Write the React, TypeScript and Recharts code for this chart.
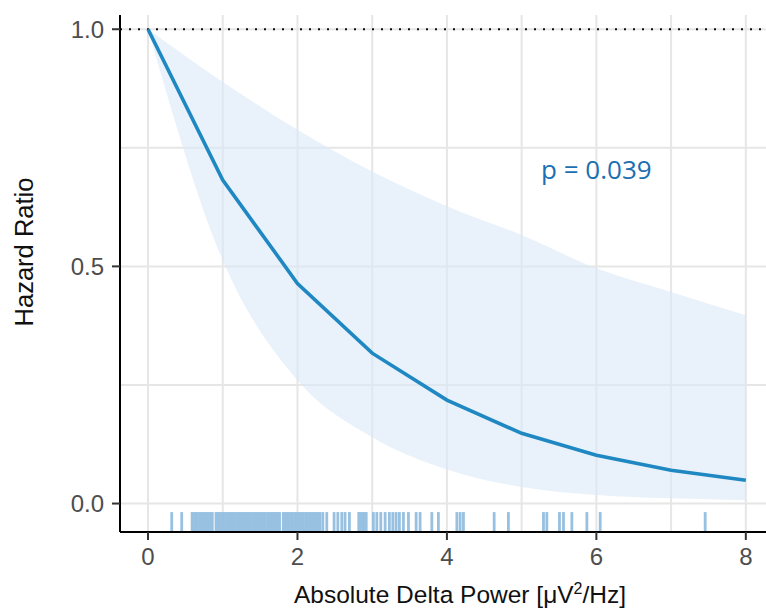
import React from "react";
import {
  ComposedChart,
  Area,
  Line,
  XAxis,
  YAxis,
  CartesianGrid,
  ReferenceLine,
  ReferenceDot,
  Label,
} from "recharts";

// curve values
const power = [0, 1, 2, 3, 4, 5, 6, 7, 8];
const hazard = [1.0, 0.682, 0.464, 0.317, 0.218, 0.148, 0.102, 0.07, 0.049];
const lowerCI = [1.0, 0.513, 0.26, 0.14, 0.072, 0.035, 0.018, 0.011, 0.007];
const upperCI = [1.0, 0.889, 0.788, 0.7, 0.627, 0.566, 0.496, 0.446, 0.397];

// rug of observed values along the x axis
const rugValues = [
  0.317, 0.451,
  0.59, 0.61, 0.64, 0.66, 0.69, 0.71, 0.74, 0.76, 0.79, 0.81, 0.84, 0.86,
  0.91, 0.93, 0.95, 0.97, 1.0, 1.02, 1.05, 1.07, 1.1, 1.12, 1.15, 1.17, 1.2,
  1.22, 1.25, 1.27, 1.3, 1.32, 1.35, 1.37, 1.4, 1.42, 1.45, 1.47, 1.5, 1.52,
  1.55, 1.57, 1.6, 1.62, 1.65, 1.67, 1.7, 1.72, 1.75, 1.76,
  1.81, 1.83, 1.86, 1.88, 1.91, 1.93, 1.96, 1.98, 2.01, 2.03, 2.06, 2.08,
  2.11, 2.13, 2.16, 2.18, 2.21, 2.23, 2.26, 2.28, 2.3,
  2.339, 2.392, 2.49, 2.54, 2.593, 2.637, 2.695,
  2.82, 2.84, 2.87, 2.89, 2.92,
  3.016, 3.062, 3.115, 3.173, 3.23, 3.276, 3.32, 3.364, 3.418, 3.485, 3.588,
  3.641, 3.798, 3.886, 4.133, 4.177, 4.221, 4.632, 4.823, 5.292, 5.337,
  5.506, 5.56, 5.672, 5.873, 6.051, 7.456,
];

const xTicks = [0, 2, 4, 6, 8];
const xGrid = [0, 1, 2, 3, 4, 5, 6, 7, 8];
const yTicks = [0, 0.5, 1];
const yGrid = [0, 0.25, 0.5, 0.75, 1];

const X_DOMAIN: [number, number] = [-0.375, 8.27];
const Y_DOMAIN: [number, number] = [-0.06, 1.03];
const RUG_TOP = -0.018;

const rows = power.map((x, i) => ({
  x,
  hr: hazard[i],
  ci: [lowerCI[i], upperCI[i]],
}));

const FONT = "'Liberation Sans', Arial, sans-serif";

const XTitle = () => (
  <text
    x={460}
    y={603}
    textAnchor="middle"
    fontFamily={FONT}
    fontSize={24.5}
    fill="#111"
  >
    Absolute Delta Power [μV
    <tspan dy={-9} fontSize={16}>2</tspan>
    <tspan dy={9}>/Hz]</tspan>
  </text>
);

const YTitle = () => (
  <text
    x={24}
    y={252}
    transform="rotate(-90 24 252)"
    textAnchor="middle"
    dominantBaseline="central"
    fontFamily={FONT}
    fontSize={25.5}
    fill="#111"
  >
    Hazard Ratio
  </text>
);

export default function App() {
  return (
    <div
      style={{
        position: "absolute",
        left: 0,
        top: 0,
        width: 766,
        height: 608,
        overflow: "hidden",
        background: "#fff",
      }}
    >
      <ComposedChart
        width={766}
        height={608}
        data={rows}
        margin={{ top: 15, right: 0, bottom: 0, left: 0 }}
      >
        <CartesianGrid
          stroke="#e6e6e6"
          strokeWidth={2}
          verticalValues={xGrid}
          horizontalValues={yGrid}
        />
        <XAxis
          type="number"
          dataKey="x"
          domain={X_DOMAIN}
          allowDataOverflow
          ticks={xTicks}
          height={76}
          tickSize={8}
          tickMargin={8}
          axisLine={{ stroke: "#000", strokeWidth: 2 }}
          tickLine={{ stroke: "#333", strokeWidth: 2 }}
          tick={{ fill: "#4d4d4d", fontSize: 24, fontFamily: FONT }}
        >
          <Label content={<XTitle />} />
        </XAxis>
        <XAxis
          xAxisId="top"
          orientation="top"
          type="number"
          domain={X_DOMAIN}
          height={0}
          tick={false}
          tickLine={false}
          axisLine={{ stroke: "#000", strokeWidth: 2 }}
        />
        <YAxis
          type="number"
          domain={Y_DOMAIN}
          allowDataOverflow
          ticks={yTicks}
          width={120}
          tickSize={8}
          tickMargin={8}
          tickFormatter={(v: number) => v.toFixed(1)}
          axisLine={{ stroke: "#000", strokeWidth: 2 }}
          tickLine={{ stroke: "#333", strokeWidth: 2 }}
          tick={{ fill: "#4d4d4d", fontSize: 24, fontFamily: FONT }}
        >
          <Label content={<YTitle />} />
        </YAxis>
        <Area
          dataKey="ci"
          type="monotone"
          stroke="none"
          fill="#dbeaf7"
          fillOpacity={0.6}
          isAnimationActive={false}
        />
        <ReferenceLine
          y={1}
          stroke="#111"
          strokeWidth={2.2}
          strokeDasharray="2 7"
        />
        <Line
          dataKey="hr"
          type="linear"
          stroke="#1f88c2"
          strokeWidth={3.6}
          dot={false}
          activeDot={false}
          isAnimationActive={false}
        />
        {rugValues.map((v, i) => (
          <ReferenceLine
            key={`rug-${i}`}
            segment={[
              { x: v, y: Y_DOMAIN[0] },
              { x: v, y: RUG_TOP },
            ]}
            stroke="#98c1e1"
            strokeWidth={2.8}
          />
        ))}
        <ReferenceDot
          x={6}
          y={0.703}
          r={0}
          stroke="none"
          label={{
            value: "p = 0.039",
            position: "center",
            fill: "#1c6fb0",
            fontSize: 26,
            fontFamily: "'Open Sans', sans-serif",
          }}
        />
      </ComposedChart>
    </div>
  );
}
